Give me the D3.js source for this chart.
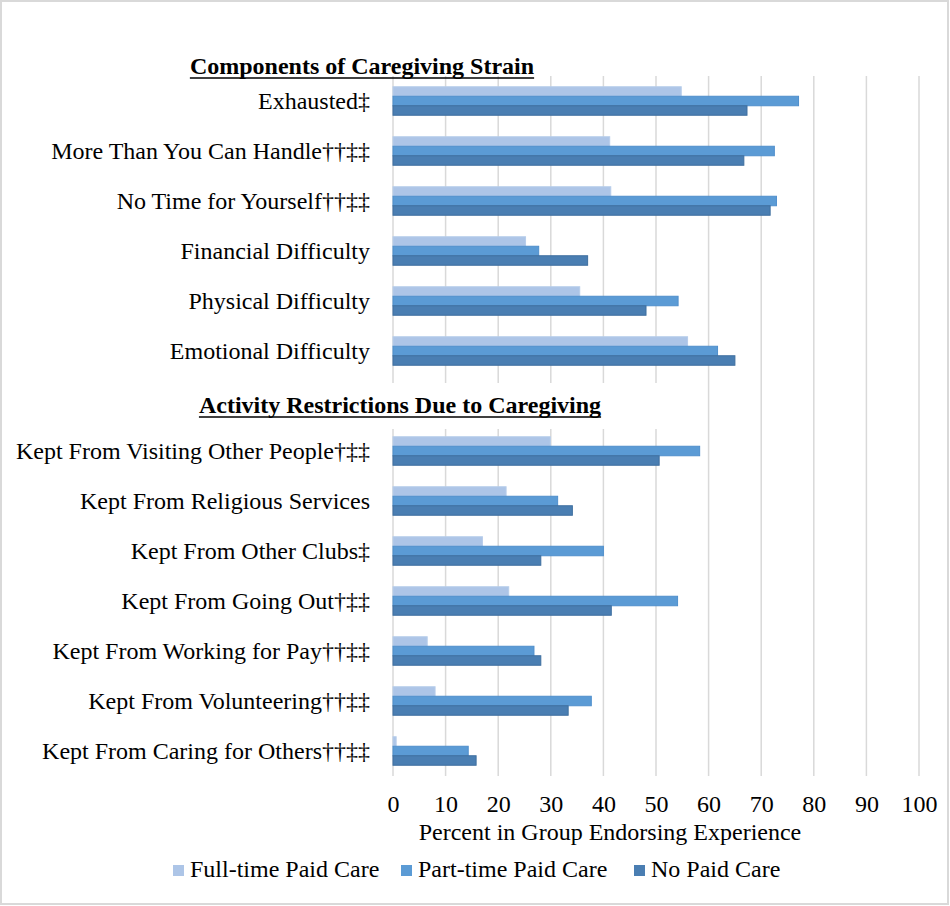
<!DOCTYPE html>
<html>
<head>
<meta charset="utf-8">
<script src="https://cdn.jsdelivr.net/npm/d3@7"></script>
<style>
  html, body { margin: 0; padding: 0; background: #fff; }
  svg text { font-family: "Liberation Serif", "Times New Roman", serif; fill: #000; }
</style>
</head>
<body>
<svg id="chart"></svg>
<script>
// row labels, top to bottom ("" = blank row holding the second section header)
const categories = [
  "Exhausted‡",
  "More Than You Can Handle††‡‡",
  "No Time for Yourself††‡‡",
  "Financial Difficulty",
  "Physical Difficulty",
  "Emotional Difficulty",
  "",
  "Kept From Visiting Other People†‡‡",
  "Kept From Religious Services",
  "Kept From Other Clubs‡",
  "Kept From Going Out†‡‡",
  "Kept From Working for Pay††‡‡",
  "Kept From Volunteering††‡‡",
  "Kept From Caring for Others††‡‡"
];
const seriesNames = ["Full-time Paid Care", "Part-time Paid Care", "No Paid Care"];
const fullTime = [54.8, 41.2, 41.4, 25.2, 35.5, 56.0, null, 29.9, 21.5, 17.0, 22.0, 6.5, 8.0, 0.6];
const partTime = [77.1, 72.5, 72.9, 27.7, 54.2, 61.7, null, 58.3, 31.3, 40.0, 54.1, 26.8, 37.7, 14.3];
const noPaid = [67.3, 66.7, 71.7, 37.0, 48.1, 65.0, null, 50.6, 34.1, 28.1, 41.5, 28.1, 33.3, 15.8];
const xTicks = [0, 10, 20, 30, 40, 50, 60, 70, 80, 90, 100];
const sectionTitles = ["Components of Caregiving Strain", "Activity Restrictions Due to Caregiving"];
const axisTitle = "Percent in Group Endorsing Experience";

const width = 950, height = 906;
const fills = ["#adc5e7", "#5b9bd5", "#4a7eb2"];
const strokes = ["#b7cdea", "#4f8fcc", "#3f6f9f"];
const series = [fullTime, partTime, noPaid];

const svg = d3.select("#chart").attr("width", width).attr("height", height);

svg.append("rect")
  .attr("x", 1).attr("y", 1)
  .attr("width", width - 3).attr("height", height - 3)
  .attr("fill", "#fff").attr("stroke", "#d9d9d9").attr("stroke-width", 2);

const x = d3.scaleLinear().domain([0, 100]).range([393, 919]);
const y = d3.scaleBand().domain(d3.range(categories.length)).range([76, 776]);
const inner = d3.scaleBand().domain(d3.range(3)).range([0, 28.5]);
const groupOff = (y.bandwidth() - 28.5) / 2;

// gridlines
svg.append("g").selectAll("line")
  .data(xTicks)
  .join("line")
  .attr("x1", d => x(d)).attr("x2", d => x(d))
  .attr("y1", y.range()[0]).attr("y2", y.range()[1])
  .attr("stroke", "#d9d9d9").attr("stroke-width", 1.5);

// bars
series.forEach((vals, s) => {
  svg.append("g").selectAll("rect")
    .data(vals.map((v, i) => ({ v, i })).filter(d => d.v !== null))
    .join("rect")
    .attr("x", x(0))
    .attr("y", d => y(d.i) + groupOff + inner(s))
    .attr("width", d => x(d.v) - x(0))
    .attr("height", inner.bandwidth())
    .attr("fill", fills[s])
    .attr("stroke", strokes[s]).attr("stroke-width", 1);
});

// category labels
svg.append("g").selectAll("text")
  .data(categories)
  .join("text")
  .attr("x", 370)
  .attr("y", (d, i) => y(i) + y.bandwidth() / 2)
  .attr("dy", "0.35em")
  .attr("text-anchor", "end")
  .style("font-size", "24px")
  .text(d => d);

// x axis tick labels
const xAxis = d3.axisBottom(x).tickValues(xTicks).tickSize(0).tickPadding(0);
const ax = svg.append("g").attr("transform", "translate(0,812)").call(xAxis);
ax.select(".domain").remove();
ax.selectAll("text")
  .attr("dy", "0")
  .attr("y", 0)
  .style("font-size", "24px")
  .style("font-family", "'Liberation Serif', 'Times New Roman', serif");

svg.append("text")
  .attr("x", 610).attr("y", 840)
  .attr("text-anchor", "middle")
  .style("font-size", "24px")
  .text(axisTitle);

// section headers
function header(text, cx, base, cover) {
  if (cover) {
    svg.append("rect")
      .attr("x", 180).attr("y", base - 30)
      .attr("width", 500).attr("height", 46)
      .attr("fill", "#fff");
  }
  const t = svg.append("text")
    .attr("x", cx).attr("y", base)
    .attr("text-anchor", "middle")
    .style("font-size", "24px")
    .style("font-weight", "bold")
    .text(text);
  const bb = t.node().getBBox();
  svg.append("line")
    .attr("x1", bb.x).attr("x2", bb.x + bb.width)
    .attr("y1", base + 4).attr("y2", base + 4)
    .attr("stroke", "#000").attr("stroke-width", 1.6);
}
header(sectionTitles[0], 362, 74, false);
header(sectionTitles[1], 400, 413, true);

// legend
const legendX = [173, 401, 634];
const lg = svg.append("g").selectAll("g")
  .data(seriesNames)
  .join("g")
  .attr("transform", (d, i) => `translate(${legendX[i]},877)`);
lg.append("rect")
  .attr("x", 0).attr("y", -12)
  .attr("width", 11).attr("height", 11)
  .attr("fill", (d, i) => fills[i]);
lg.append("text")
  .attr("x", 17)
  .style("font-size", "24px")
  .text(d => d);
</script>
</body>
</html>
